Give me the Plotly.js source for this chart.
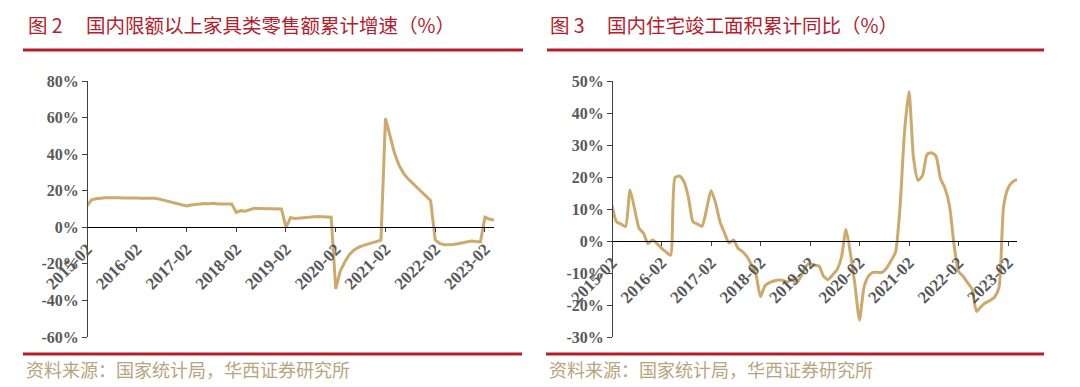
<!DOCTYPE html>
<html>
<head>
<meta charset="utf-8">
<script src="https://cdn.plot.ly/plotly-3.0.1.min.js"></script>
<style>
  html, body { margin: 0; padding: 0; background: #ffffff; }
  #chart { width: 1080px; height: 387px; }
</style>
</head>
<body>
<div id="chart"></div>
<script>
// ---------------- DATA ----------------
const years = ['2015', '2016', '2017', '2018', '2019', '2020', '2021', '2022', '2023'];
const months = ['02', '03', '04', '05', '06', '07', '08', '09', '10', '11', '12'];

// 国内限额以上家具类零售额累计增速（%）
const furnitureGrowth = [
  11.8, 15.0, 15.6, 16.0, 16.2, 16.1, 16.3, 16.2, 16.0, 16.1, 16.1,
  16.0, 15.9, 16.0, 16.1, 15.9, 15.4, 14.8, 14.2, 13.5, 13.0, 12.7,
  11.7, 12.2, 12.6, 12.8, 13.0, 12.9, 13.1, 12.8, 12.9, 12.9, 12.8,
  8.2, 9.1, 8.8, 9.6, 10.4, 10.3, 10.3, 10.2, 10.1, 10.1, 10.0,
  0.0, 5.2, 4.8, 5.0, 5.5, 5.8, 6.0, 5.9, 5.8, 5.6, 5.5,
  -33.7, -24.0, -19.0, -15.0, -12.5, -11.0, -10.0, -9.2, -8.4, -7.9, -7.0,
  59.6, 49.5, 40.5, 34.0, 29.5, 26.5, 24.0, 21.5, 19.0, 16.5, 14.5,
  -6.9, -8.8, -9.5, -9.5, -9.4, -9.0, -8.6, -8.3, -7.5, -7.8, -8.0,
  5.5, 4.4, 4.0
];

// 国内住宅竣工面积累计同比（%）
const housingCompletion = [
  11.2, 6.0, 5.3, 4.5, 15.9, 10.2, 4.0, 2.4, -0.8, 0.3, -0.8,
  -2.2, -3.4, -4.5, 19.8, 20.3, 18.5, 13.5, 6.0, 5.3, 4.6, 9.8,
  15.8, 12.0, 6.0, 2.5, -0.6, 0.3, -2.3, -3.3, -4.9, -7.5, -10.5,
  -17.4, -14.0, -13.0, -12.5, -12.2, -12.3, -12.8, -12.0, -13.2, -11.0, -8.0,
  -7.0, -7.6, -7.8, -11.0, -12.0, -10.6, -9.0, -5.0, 3.6, -4.0, -13.8,
  -24.7, -14.5, -11.0, -9.8, -9.8, -9.8, -8.5, -6.2, -3.5, 10.5, 34.0,
  46.7, 26.0, 19.0, 20.5, 27.0, 27.6, 26.5, 19.5, 16.5, 11.0, -1.0,
  -9.5, -11.0, -13.0, -15.0, -22.0, -20.5, -19.3, -18.6, -17.6, -14.5, 10.5,
  16.5, 18.5, 19.3
];

const tickLabelsX = ['2015-02', '2016-02', '2017-02', '2018-02', '2019-02', '2020-02', '2021-02', '2022-02', '2023-02'];
const leftTickVals = [-60, -40, -20, 0, 20, 40, 60, 80];
const leftTickText = ['-60%', '-40%', '-20%', '0%', '20%', '40%', '60%', '80%'];
const rightTickVals = [-30, -20, -10, 0, 10, 20, 30, 40, 50];
const rightTickText = ['-30%', '-20%', '-10%', '0%', '10%', '20%', '30%', '40%', '50%'];

const leftTitleNo = '图 2';
const leftTitle = '国内限额以上家具类零售额累计增速（%）';
const rightTitleNo = '图 3';
const rightTitle = '国内住宅竣工面积累计同比（%）';
const sourceText = '资料来源：国家统计局，华西证券研究所';

// category labels
const allCats = [];
years.forEach(y => months.forEach(m => allCats.push(y + '-' + m)));
const catsLeft = allCats.slice(0, furnitureGrowth.length);
const catsRight = allCats.slice(0, housingCompletion.length);

// ---------------- LAYOUT HELPERS ----------------
const W = 1080, H = 387;
const px = x => x / W;
const py = y => 1 - y / H;

const lineColor = '#CDAA6C';
const redColor = '#B3202B';
const yTickFont = { family: '"Liberation Serif", "Times New Roman", serif', size: 16, color: '#595959', weight: 'bold' };
const xTickFont = { family: '"Liberation Serif", "Times New Roman", serif', size: 17, color: '#595959', weight: 'bold' };

const yTop = py(81), yBot = py(337);
const leftRange = [-60, 80];
const rightRange = [-30, 50];
const zeroPos = (r) => yBot + (0 - r[0]) / (r[1] - r[0]) * (yTop - yBot);

const traces = [
  {
    x: catsLeft, y: furnitureGrowth, type: 'scatter', mode: 'lines',
    line: { color: lineColor, width: 3 }, xaxis: 'x', yaxis: 'y', hoverinfo: 'skip'
  },
  {
    x: catsRight, y: housingCompletion, type: 'scatter', mode: 'lines',
    line: { color: lineColor, width: 3, shape: 'spline', smoothing: 0.6 }, xaxis: 'x2', yaxis: 'y2', hoverinfo: 'skip'
  }
];

function xAxis(domain, pos) {
  return {
    type: 'category', domain: domain, anchor: 'free', position: pos,
    range: [0, 90], showgrid: false, zeroline: false,
    showline: true, linecolor: '#000000', linewidth: 1.2,
    ticks: 'outside', ticklen: 4, tickcolor: '#404040', tickwidth: 1,
    tickmode: 'array', tickvals: tickLabelsX, ticktext: tickLabelsX,
    tickangle: -45, tickfont: xTickFont
  };
}

function yAxis(range, pos, vals, text) {
  return {
    domain: [yBot, yTop], range: range, anchor: 'free', position: pos,
    showgrid: false, zeroline: false, showline: true, linecolor: '#404040', linewidth: 1.2,
    ticks: 'outside', ticklen: 5, tickcolor: '#404040',
    tickmode: 'array', tickvals: vals, ticktext: text, tickfont: yTickFont
  };
}

const titleFont = { family: '"Noto Sans CJK SC", sans-serif', size: 19.5, color: redColor };
const srcFont = { family: '"Noto Sans CJK SC", sans-serif', size: 18, color: '#B8A47E' };

function note(text, x, y, font) {
  return { text: text, xref: 'paper', yref: 'paper', x: px(x), y: py(y), xanchor: 'left', yanchor: 'middle', showarrow: false, font: font };
}

function hline(x0, x1, y) {
  return { type: 'line', xref: 'paper', yref: 'paper', x0: px(x0), x1: px(x1), y0: py(y), y1: py(y), line: { color: redColor, width: 3 } };
}

const layout = {
  width: W, height: H,
  margin: { l: 0, r: 0, t: 0, b: 0 },
  paper_bgcolor: '#ffffff', plot_bgcolor: 'rgba(0,0,0,0)',
  showlegend: false,
  xaxis: xAxis([px(87), px(494)], zeroPos(leftRange)),
  yaxis: yAxis(leftRange, px(87), leftTickVals, leftTickText),
  xaxis2: xAxis([px(612), px(1017)], zeroPos(rightRange)),
  yaxis2: yAxis(rightRange, px(612), rightTickVals, rightTickText),
  shapes: [
    hline(23, 523, 50), hline(547, 1044, 50),
    hline(23, 522, 354), hline(546, 1044, 354)
  ],
  annotations: [
    note(leftTitleNo, 26, 25, titleFont),
    note(leftTitle, 84, 25, titleFont),
    note(rightTitleNo, 548, 25, titleFont),
    note(rightTitle, 605, 25, titleFont),
    note(sourceText, 24, 369, srcFont),
    note(sourceText, 547, 369, srcFont)
  ]
};

Plotly.newPlot('chart', traces, layout, { staticPlot: true, displayModeBar: false });
</script>
</body>
</html>
